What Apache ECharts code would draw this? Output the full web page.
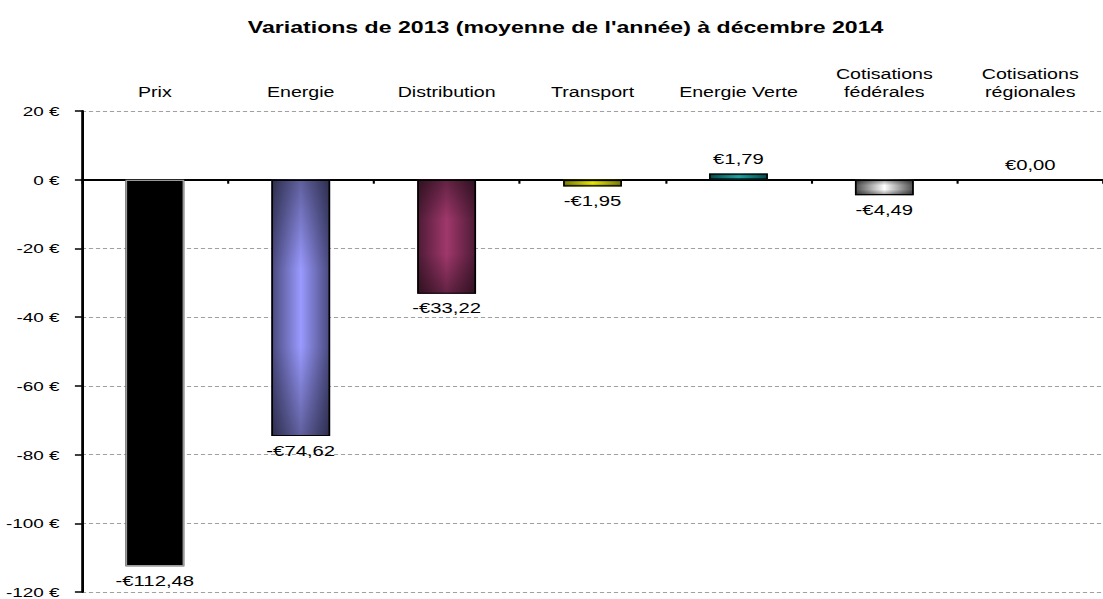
<!DOCTYPE html>
<html>
<head>
<meta charset="utf-8">
<title>Variations 2013 - 2014</title>
<script src="https://cdn.jsdelivr.net/npm/echarts@6/dist/echarts.min.js"></script>
<style>
  html, body { margin: 0; padding: 0; background: #fff; overflow: hidden; }
  /* the source picture is stretched sideways, so the chart is drawn narrow and widened */
  #chart { width: 788px; height: 599px; transform: scaleX(1.4); transform-origin: 0 0; }
</style>
</head>
<body>
<div id="chart"></div>
<script>
// data
const categories = ["Prix", "Energie", "Distribution", "Transport", "Energie Verte", "Cotisations\nfédérales", "Cotisations\nrégionales"];
const values = [-112.48, -74.62, -33.22, -1.95, 1.79, -4.49, 0.0];
const yMin = -120;
const yMax = 20;
const yStep = 20;

// bar colours (edge of the bar / middle of the bar)
const edgeColors = ["#000000", "#48487c", "#4c1a34", "#77770a", "#004a4a", "#4a4a4a", "#666666"];
const midColors = ["#000000", "#9a9aff", "#a0386c", "#e6e600", "#23a3a3", "#ffffff", "#cccccc"];
const borderColors = ["#9a9a9a", "#000", "#000", "#000", "#000", "#000", "#000"];

const font = "'Liberation Sans', Arial, sans-serif";

function euro(v) {
  let s = "€" + Math.abs(v).toFixed(2).replace(".", ",");
  return v < 0 ? "-" + s : s;
}

function sideGradient(edge, mid) {
  return new echarts.graphic.LinearGradient(0, 0, 1, 0, [
    { offset: 0, color: edge },
    { offset: 0.5, color: mid },
    { offset: 1, color: edge },
  ]);
}

let shade = new echarts.graphic.LinearGradient(0, 0, 0, 1, [
  { offset: 0, color: "rgba(0,0,0,0.38)" },
  { offset: 0.35, color: "rgba(0,0,0,0)" },
  { offset: 0.65, color: "rgba(0,0,0,0)" },
  { offset: 1, color: "rgba(0,0,0,0.38)" },
]);

let myChart = echarts.init(document.getElementById("chart"), null, { renderer: "svg" });
myChart.setOption({
  animation: false,
  textStyle: { fontFamily: font },
  title: {
    text: "Variations de 2013 (moyenne de l'année) à décembre 2014",
    left: 399,
    top: 14,
    textAlign: "center",
    textStyle: { fontFamily: font, fontSize: 16.5, fontWeight: "bold", color: "#000" },
  },
  grid: { left: 58.5, top: 111, width: 740, height: 483 },
  xAxis: [
    {
      type: "category",
      data: categories,
      position: "bottom",
      axisLine: { onZero: true, lineStyle: { color: "#000", width: 2 } },
      axisTick: { show: true, length: 4, lineStyle: { color: "#000", width: 1.5 } },
      axisLabel: { show: false },
    },
    {
      type: "category",
      data: categories,
      position: "top",
      axisLine: { show: false },
      axisTick: { show: false },
      axisLabel: {
        interval: 0,
        margin: 10,
        fontFamily: font,
        fontSize: 14,
        lineHeight: 18,
        color: "#000",
      },
    },
  ],
  yAxis: {
    type: "value",
    min: yMin,
    max: yMax,
    interval: yStep,
    axisLine: { show: true, lineStyle: { color: "#000", width: 2 } },
    axisTick: { show: true, length: 5, lineStyle: { color: "#000", width: 1.5 } },
    axisLabel: {
      margin: 16,
      fontFamily: font,
      fontSize: 13.5,
      color: "#000",
      formatter: "{value} €",
    },
    splitLine: { lineStyle: { color: "#a0a0a0", type: [3, 2], width: 1 } },
  },
  series: [
    {
      name: "Variation",
      type: "bar",
      barWidth: 42,
      data: values.map(function (v, i) {
        return {
          value: v,
          itemStyle: { color: sideGradient(edgeColors[i], midColors[i]) },
          label: { position: v < 0 ? "bottom" : "top" },
        };
      }),
      label: {
        show: true,
        distance: 7,
        fontFamily: font,
        fontSize: 14.5,
        color: "#000",
        formatter: function (p) {
          return euro(p.value);
        },
      },
    },
    {
      // top and bottom shading + border of each bar
      name: "shade",
      type: "bar",
      barWidth: 42,
      barGap: "-100%",
      silent: true,
      data: values.map(function (v, i) {
        return {
          value: v,
          itemStyle: { color: shade, borderColor: borderColors[i], borderWidth: 1.2 },
        };
      }),
    },
  ],
});
</script>
</body>
</html>
